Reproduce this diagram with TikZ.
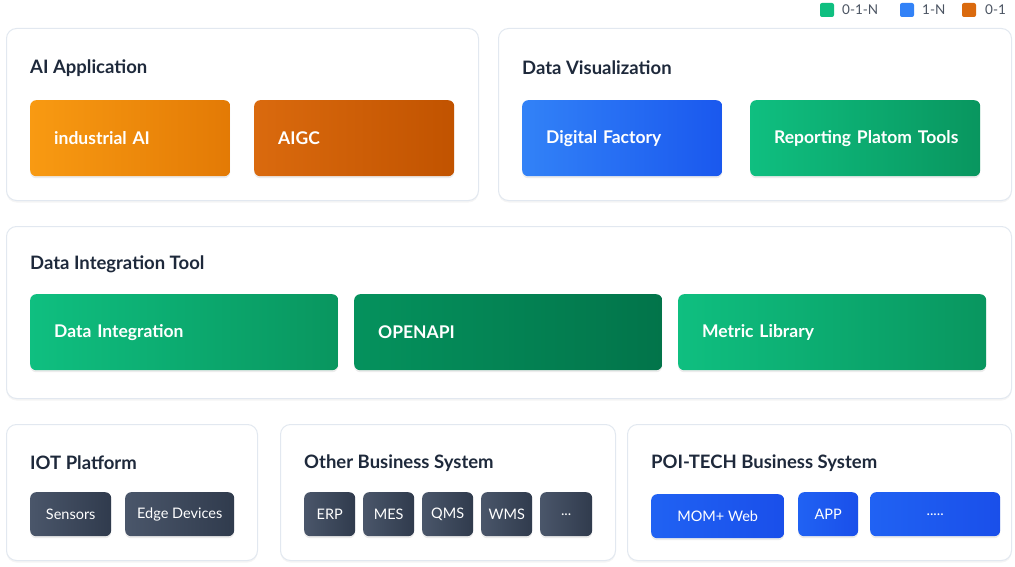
\documentclass[tikz,border=0pt]{standalone}
\usepackage{fontspec}
\setmainfont{Lato}
\usetikzlibrary{shadows}
\definecolor{pborder}{HTML}{E2E8F0}
\definecolor{ttl}{HTML}{1E293B}
\definecolor{orA}{HTML}{F89A12}\definecolor{orB}{HTML}{E37A05}
\definecolor{odA}{HTML}{DA6A0E}\definecolor{odB}{HTML}{C15300}
\definecolor{blA}{HTML}{3282F7}\definecolor{blB}{HTML}{1A58EE}
\definecolor{grA}{HTML}{0FBF80}\definecolor{grB}{HTML}{09965F}
\definecolor{gdA}{HTML}{05925D}\definecolor{gdB}{HTML}{02744A}
\definecolor{slA}{HTML}{4A566A}\definecolor{slB}{HTML}{303B4D}
\definecolor{mbA}{HTML}{2062F3}\definecolor{mbB}{HTML}{1A4FEA}
\tikzset{
 panel/.style={draw=pborder,line width=1pt,fill=white,rounded corners=10pt,drop shadow={opacity=0.08,shadow xshift=0pt,shadow yshift=-2pt}},
 ttl/.style={font=\fontsize{18.5}{20}\selectfont\bfseries,text=ttl,anchor=west,inner sep=0pt},
 big/.style={rounded corners=6pt,text=white,font=\fontsize{17.5}{20}\selectfont\bfseries,drop shadow={opacity=0.15,shadow xshift=0pt,shadow yshift=-2pt},anchor=north west,inner sep=0pt},
 small/.style={rounded corners=6pt,text=white,font=\fontsize{14.5}{16}\selectfont,drop shadow={opacity=0.15,shadow xshift=0pt,shadow yshift=-2pt},anchor=north west,inner sep=0pt},
 orS/.style={left color=orA,right color=orB},
 odS/.style={left color=odA,right color=odB},
 blS/.style={left color=blA,right color=blB},
 grS/.style={left color=grA,right color=grB},
 gdS/.style={left color=gdA,right color=gdB},
 slS/.style={left color=slA,right color=slB},
 mbS/.style={left color=mbA,right color=mbB},
 leg/.style={font=\fontsize{13.5}{15}\selectfont,text=ttl!80,anchor=west,inner sep=0pt},
}
\newcommand\bigbox[7]{\node[big,#6,minimum width={(#4-#2)*1pt},minimum height={(#5-#3)*1pt},text width={(#4-#2-30)*1pt},align=left] (#1) at (#2,#3) {\hspace*{9pt}#7};}
\newcommand\smbox[7]{\node[small,#6,minimum width={(#4-#2)*1pt},minimum height={(#5-#3)*1pt},align=center] (#1) at (#2,#3) {#7};}
\begin{document}
\begin{tikzpicture}[x=1pt,y=-1pt]
\useasboundingbox[fill=white] (0,0) rectangle (1015,567);
% legend
\node[fill=grA,rounded corners=2pt,minimum size=14pt,inner sep=0pt] (lg) at (827,10) {};
\node[leg] (lgt) at (842,10) {0-1-N};
\node[fill=blA,rounded corners=2pt,minimum size=14pt,inner sep=0pt] (lb) at (907,10) {};
\node[leg] (lbt) at (922,10) {1-N};
\node[fill=odA,rounded corners=2pt,minimum size=14pt,inner sep=0pt] (lo) at (969,10) {};
\node[leg] (lot) at (985,10) {0-1};
% panels
\node[panel,anchor=north west,minimum width=472pt,minimum height=172pt,inner sep=0pt] (p1) at (6,28) {};
\node[ttl] (p1t) at (30,68) {AI Application};
\node[panel,anchor=north west,minimum width=513pt,minimum height=172pt,inner sep=0pt] (p2) at (498,28) {};
\node[ttl] (p2t) at (522,68) {Data Visualization};
\node[panel,anchor=north west,minimum width=1005pt,minimum height=172pt,inner sep=0pt] (p3) at (6,226) {};
\node[ttl] (p3t) at (30,264) {Data Integration Tool};
\node[panel,anchor=north west,minimum width=251pt,minimum height=136pt,inner sep=0pt] (p4) at (6,424) {};
\node[ttl] (p4t) at (30,463) {IOT Platform};
\node[panel,anchor=north west,minimum width=335pt,minimum height=136pt,inner sep=0pt] (p5) at (280,424) {};
\node[ttl] (p5t) at (304,463) {Other Business System};
\node[panel,anchor=north west,minimum width=384pt,minimum height=136pt,inner sep=0pt] (p6) at (627,424) {};
\node[ttl] (p6t) at (651,463) {POI-TECH Business System};
% big boxes
\bigbox{b1}{30}{100}{230}{176}{orS}{industrial AI}
\bigbox{b2}{254}{100}{454}{176}{odS}{AIGC}
\bigbox{b3}{522}{100}{722}{176}{blS}{Digital Factory}
\bigbox{b4}{750}{100}{980}{176}{grS}{Reporting Platom Tools}
\bigbox{b5}{30}{294}{338}{370}{grS}{Data Integration}
\bigbox{b6}{354}{294}{662}{370}{gdS}{OPENAPI}
\bigbox{b7}{678}{294}{986}{370}{grS}{Metric Library}
% small boxes
\smbox{s1}{30}{492}{111}{536}{slS}{Sensors}
\smbox{s2}{125}{492}{234}{536}{slS}{Edge Devices}
\smbox{s3}{304}{492}{355}{536}{slS}{ERP}
\smbox{s4}{363}{492}{414}{536}{slS}{MES}
\smbox{s5}{422}{492}{473}{536}{slS}{QMS}
\smbox{s6}{481}{492}{532}{536}{slS}{WMS}
\smbox{s7}{540}{492}{592}{536}{slS}{.{}.{}.}
\smbox{s8}{651}{494}{784}{538}{mbS}{MOM+ Web}
\smbox{s9}{798}{492}{858}{536}{mbS}{APP}
\smbox{s10}{870}{492}{1000}{536}{mbS}{.{}.{}.{}.{}.}
\end{tikzpicture}
\end{document}
